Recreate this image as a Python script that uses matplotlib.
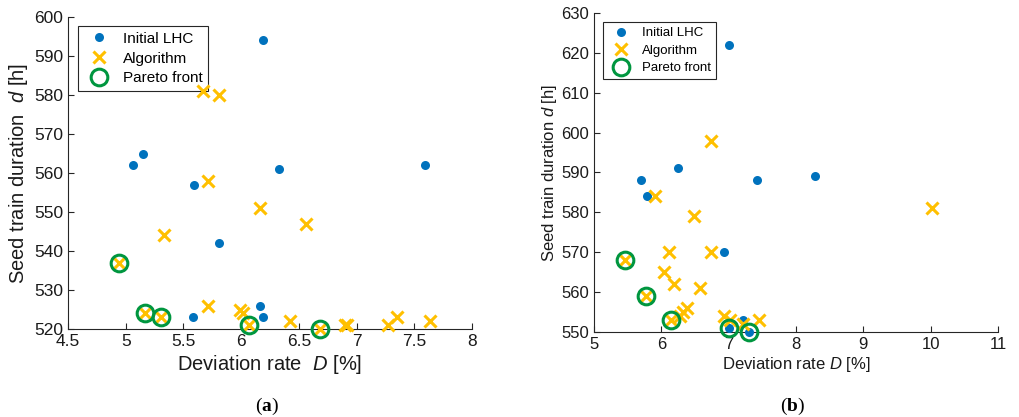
import matplotlib
matplotlib.use('Agg')
import matplotlib.pyplot as plt

plt.rcParams['font.family'] = ['Liberation Sans', 'DejaVu Sans']
plt.rcParams['mathtext.fontset'] = 'custom'
plt.rcParams['mathtext.rm'] = 'Liberation Sans'
plt.rcParams['mathtext.it'] = 'Liberation Sans:italic'
plt.rcParams['mathtext.bf'] = 'Liberation Serif:bold'

# ---- panel (a) data
a_lhc_x = [6.19, 5.06, 5.15, 5.59, 6.33, 7.59, 5.81, 5.58, 6.16, 6.19]
a_lhc_y = [594, 562, 565, 557, 561, 562, 542, 523, 526, 523]
a_alg_x = [5.67, 5.81, 5.71, 6.16, 6.56, 5.33, 4.94, 5.71, 5.99, 6.02,
           5.17, 5.31, 6.07, 6.42, 6.68, 6.90, 6.92, 7.27, 7.35, 7.64]
a_alg_y = [581, 580, 558, 551, 547, 544, 537, 526, 525, 524,
           524, 523, 521, 522, 520, 521, 521, 521, 523, 522]
a_par_x = [4.94, 5.17, 5.31, 6.07, 6.68]
a_par_y = [537, 524, 523, 521, 520]

# ---- panel (b) data
b_lhc_x = [7.00, 6.24, 5.70, 5.79, 7.42, 8.28, 6.93, 7.21, 7.00, 7.30]
b_lhc_y = [622, 591, 588, 584, 588, 589, 570, 553, 551, 550]
b_alg_x = [6.73, 5.91, 6.48, 10.02, 6.11, 6.73, 6.04, 6.19, 6.58, 5.46,
           5.77, 6.14, 6.27, 6.32, 6.38, 6.93, 7.02, 7.21, 7.45]
b_alg_y = [598, 584, 579, 581, 570, 570, 565, 562, 561, 568,
           559, 553, 554, 555, 556, 554, 553, 552, 553]
b_par_x = [5.46, 5.77, 6.14, 7.00, 7.30]
b_par_y = [568, 559, 553, 551, 550]

blue = '#0072BD'
gold = '#FFC000'
green = '#00963F'
axcol = '#262626'

fig = plt.figure(figsize=(10.19, 4.17), dpi=100)
ax1 = fig.add_axes([0.0667, 0.211, 0.3965, 0.748])
ax2 = fig.add_axes([0.583, 0.204, 0.3965, 0.765])


def draw(ax, lx, ly, gx, gy, px, py, fs_tick, fs_leg, spacing):
    ax.plot(lx, ly, 'o', color=blue, ms=6.5, mew=0, label='Initial LHC',
            zorder=3, clip_on=False)
    ax.plot(gx, gy, 'x', color=gold, ms=9, mew=2.2, label='Algorithm',
            zorder=4, clip_on=False)
    ax.plot(px, py, 'o', mfc='none', mec=green, ms=12, mew=2.2,
            label='Pareto front', zorder=5, clip_on=False)
    for s in ['top', 'right']:
        ax.spines[s].set_visible(False)
    for s in ['left', 'bottom']:
        ax.spines[s].set_color(axcol)
        ax.spines[s].set_linewidth(0.8)
    ax.tick_params(direction='in', length=4, width=0.8, colors=axcol,
                   labelsize=fs_tick, labelcolor='#1a1a1a')
    leg = ax.legend(loc='upper left', fontsize=fs_leg, frameon=True, fancybox=False,
                    edgecolor=axcol, framealpha=1, borderpad=0.35,
                    borderaxespad=0, labelspacing=spacing, handletextpad=0.6,
                    handlelength=2.0)
    leg.get_frame().set_linewidth(0.8)
    leg.set_zorder(2)
    return leg


leg1 = draw(ax1, a_lhc_x, a_lhc_y, a_alg_x, a_alg_y, a_par_x, a_par_y, 12.5, 11, 0.38)
leg1.set_bbox_to_anchor((0.025, 0.97), transform=ax1.transAxes)
ax1.set_xlim(4.5, 8)
ax1.set_ylim(520, 600)
ax1.set_xticks([4.5, 5, 5.5, 6, 6.5, 7, 7.5, 8])
ax1.set_xticklabels(['4.5', '5', '5.5', '6', '6.5', '7', '7.5', '8'])
ax1.set_yticks(range(520, 601, 10))
ax1.set_xlabel(r'Deviation rate  $D$ [%]', fontsize=14.5, color='#1a1a1a', labelpad=3)
ax1.set_ylabel(r'Seed train duration  $d$ [h]', fontsize=14.5, color='#1a1a1a', labelpad=3)

leg2 = draw(ax2, b_lhc_x, b_lhc_y, b_alg_x, b_alg_y, b_par_x, b_par_y, 12, 9.5, 0.4)
leg2.set_bbox_to_anchor((0.022, 0.97), transform=ax2.transAxes)
ax2.set_xlim(5, 11)
ax2.set_ylim(550, 630)
ax2.set_xticks(range(5, 12))
ax2.set_yticks(range(550, 631, 10))
ax2.set_xlabel(r'Deviation rate $D$ [%]', fontsize=12, color='#1a1a1a', labelpad=2)
ax2.set_ylabel(r'Seed train duration $d$ [h]', fontsize=12, color='#1a1a1a', labelpad=2)

fig.text(0.262, 0.015, r'($\mathbf{a}$)', ha='center', fontsize=14,
         family='Liberation Serif')
fig.text(0.778, 0.015, r'($\mathbf{b}$)', ha='center', fontsize=14,
         family='Liberation Serif')

fig.savefig('out.png', dpi=100)
